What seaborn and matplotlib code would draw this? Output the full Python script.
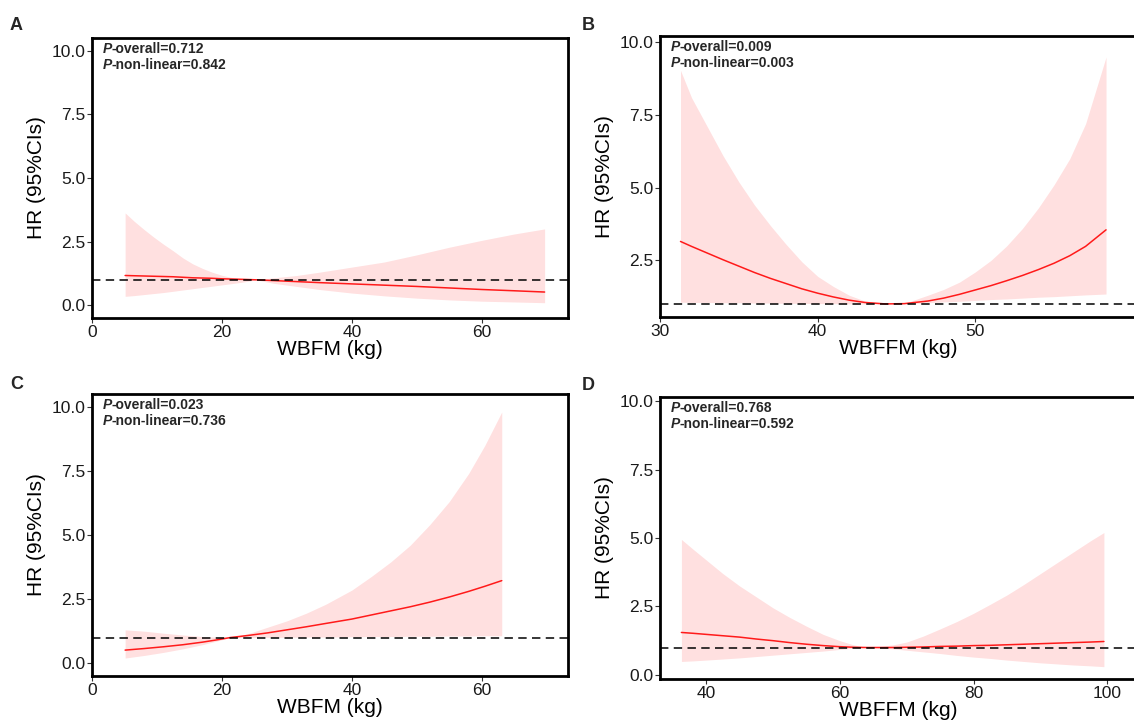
import numpy as np
import pandas as pd
import seaborn as sns
import matplotlib.pyplot as plt

# panel A: WBFM, model 1
a_x = [5.1, 6.5, 8, 9.5, 11, 12.5, 14, 15.5, 17, 18.5, 20, 21.5, 23, 25.3, 28, 31.5, 35, 40, 45, 50, 55, 60, 65, 69.7]
a_hr = [1.17, 1.16, 1.15, 1.14, 1.13, 1.12, 1.1, 1.08, 1.07, 1.06, 1.04, 1.03, 1.02, 1.0, 0.97, 0.93, 0.89, 0.84, 0.79, 0.74, 0.68, 0.62, 0.57, 0.52]
a_up = [3.63, 3.3, 2.98, 2.68, 2.4, 2.14, 1.86, 1.63, 1.45, 1.3, 1.18, 1.09, 1.03, 1.0, 1.08, 1.17, 1.3, 1.5, 1.7, 1.98, 2.28, 2.55, 2.8, 3.0]
a_lo = [0.35, 0.38, 0.42, 0.46, 0.5, 0.55, 0.6, 0.65, 0.7, 0.75, 0.8, 0.85, 0.9, 1.0, 0.86, 0.74, 0.62, 0.48, 0.37, 0.28, 0.21, 0.16, 0.13, 0.1]

# panel B: WBFFM, model 1
b_x = [31.3, 32, 33, 34, 35, 36, 37, 38, 39, 40, 41, 42, 43, 44.3, 45.5, 47, 48, 49, 50, 51, 52, 53, 54, 55, 56, 57, 58.3]
b_hr = [3.15, 2.98, 2.75, 2.52, 2.3, 2.08, 1.88, 1.7, 1.52, 1.37, 1.24, 1.13, 1.05, 1.0, 1.01, 1.1, 1.2, 1.33, 1.48, 1.63, 1.8, 1.98, 2.18, 2.4, 2.66, 2.98, 3.55]
b_up = [9.04, 8.1, 7.1, 6.1, 5.2, 4.4, 3.7, 3.05, 2.45, 1.95, 1.6, 1.3, 1.1, 1.0, 1.02, 1.3, 1.5, 1.75, 2.1, 2.5, 3.0, 3.6, 4.3, 5.1, 6.0, 7.2, 9.5]
b_lo = [1.06, 1.05, 1.05, 1.04, 1.04, 1.03, 1.03, 1.02, 1.02, 1.01, 1.01, 1.0, 1.0, 1.0, 1.0, 1.04, 1.07, 1.09, 1.12, 1.15, 1.17, 1.2, 1.23, 1.25, 1.28, 1.31, 1.34]

# panel C: WBFM, model 2
c_x = [5.1, 8, 11, 14, 17, 19, 21.3, 24, 27, 30, 33, 36, 40, 43, 46, 49, 52, 55, 58, 60.5, 63.1]
c_hr = [0.51, 0.57, 0.64, 0.72, 0.82, 0.9, 1.0, 1.08, 1.18, 1.3, 1.42, 1.55, 1.72, 1.88, 2.04, 2.2, 2.38, 2.58, 2.8, 3.0, 3.22]
c_up = [1.3, 1.25, 1.17, 1.1, 1.04, 1.02, 1.0, 1.15, 1.4, 1.65, 1.95, 2.3, 2.85, 3.38, 3.95, 4.6, 5.4, 6.3, 7.4, 8.5, 9.8]
c_lo = [0.2, 0.3, 0.42, 0.56, 0.72, 0.85, 1.0, 1.0, 1.01, 1.01, 1.02, 1.02, 1.03, 1.04, 1.04, 1.05, 1.05, 1.06, 1.06, 1.07, 1.07]

# panel D: WBFFM, model 2
d_x = [36.3, 38, 40, 42.5, 45, 47.5, 50, 52.5, 55, 57.5, 60, 62, 64, 66, 68, 70, 72.5, 75, 77.5, 80, 82.5, 85, 87.5, 90, 92.5, 95, 97.5, 99.5]
d_hr = [1.55, 1.52, 1.48, 1.43, 1.38, 1.31, 1.25, 1.18, 1.12, 1.07, 1.03, 1.01, 1.0, 1.0, 1.0, 1.01, 1.02, 1.04, 1.05, 1.07, 1.08, 1.1, 1.12, 1.14, 1.16, 1.18, 1.2, 1.22]
d_up = [4.95, 4.6, 4.2, 3.7, 3.25, 2.85, 2.45, 2.1, 1.78, 1.48, 1.25, 1.1, 1.0, 1.04, 1.1, 1.2, 1.42, 1.68, 1.95, 2.25, 2.58, 2.92, 3.3, 3.7, 4.1, 4.5, 4.9, 5.2]
d_lo = [0.49, 0.51, 0.54, 0.58, 0.62, 0.67, 0.72, 0.77, 0.82, 0.87, 0.93, 0.97, 1.0, 0.98, 0.95, 0.9, 0.84, 0.78, 0.71, 0.65, 0.6, 0.54, 0.49, 0.44, 0.4, 0.36, 0.33, 0.3]

panels = [
    ("A", a_x, a_hr, a_up, a_lo, "WBFM (kg)", "0.712", "0.842"),
    ("B", b_x, b_hr, b_up, b_lo, "WBFFM (kg)", "0.009", "0.003"),
    ("C", c_x, c_hr, c_up, c_lo, "WBFM (kg)", "0.023", "0.736"),
    ("D", d_x, d_hr, d_up, d_lo, "WBFFM (kg)", "0.768", "0.592"),
]

sns.set_theme(style="white")
plt.rcParams['font.family'] = ['Liberation Sans', 'DejaVu Sans']

W, H = 1134, 722
fig = plt.figure(figsize=(W / 100, H / 100), dpi=100)

# axes boxes in pixels: left, top, right, bottom
boxes = {"A": (92, 38, 568, 318), "B": (660, 36, 1136, 317),
         "C": (92, 394, 568, 676), "D": (660, 397, 1136, 679)}
xlims = {"A": (0, 73.3), "B": (30, 60.2), "C": (0, 73.3), "D": (33.1, 104.3)}
ylims = {"A": (-0.5, 10.5), "B": (0.55, 10.22), "C": (-0.5, 10.5), "D": (-0.15, 10.15)}
xticks = {"A": [0, 20, 40, 60], "B": [30, 40, 50], "C": [0, 20, 40, 60], "D": [40, 60, 80, 100]}
letter_pos = {"A": (10, 17), "B": (582, 17), "C": (10, 376), "D": (582, 377)}

for tag, x, hr, up, lo, xlab, p1, p2 in panels:
    l, t, r, b = boxes[tag]
    ax = fig.add_axes([l / W, 1 - b / H, (r - l) / W, (b - t) / H])
    df = pd.DataFrame({"x": x, "hr": hr, "up": up, "lo": lo})
    ax.fill_between(df["x"], df["lo"], df["up"], color="red", alpha=0.12, lw=0)
    sns.lineplot(data=df, x="x", y="hr", ax=ax, color="#FF1A1A", lw=1.1)
    ax.axhline(1, color="black", lw=1.1, ls=(0, (5.5, 3.5)))

    ax.set_xlim(*xlims[tag])
    ax.set_ylim(*ylims[tag])
    ax.set_xticks(xticks[tag])
    yt = [v for v in [0, 2.5, 5, 7.5, 10] if ylims[tag][0] <= v <= ylims[tag][1]]
    ax.set_yticks(yt)
    ax.set_yticklabels([f"{v:.1f}" for v in yt])
    ax.tick_params(axis="both", which="both", direction="out", length=3.5, width=0.8,
                   color="#333333", labelcolor="#1a1a1a", labelsize=12.5, pad=1.5,
                   bottom=True, left=True)
    for s in ax.spines.values():
        s.set_color("black")
        s.set_linewidth(2.0)
    ax.set_xlabel(xlab, fontsize=15, labelpad=0, color="black")
    ax.set_ylabel("HR (95%CIs)", fontsize=15, labelpad=4, color="black")
    ax.grid(False)

    for i, (name, val) in enumerate([("-overall=", p1), ("-non-linear=", p2)]):
        pt = ax.annotate("P", xy=(0, 1), xycoords="axes fraction",
                         xytext=(7.5, -3 - i * 11.5), textcoords="offset points",
                         ha="left", va="top", fontsize=10, fontweight="bold", fontstyle="italic")
        ax.annotate(name + val, xy=(1, 0), xycoords=pt, ha="left", va="bottom",
                    fontsize=10, fontweight="bold")

    lx, ly = letter_pos[tag]
    fig.text(lx / W, 1 - ly / H, tag, ha="left", va="top", fontsize=13, fontweight="bold")

fig.savefig("out.png", dpi=100)
